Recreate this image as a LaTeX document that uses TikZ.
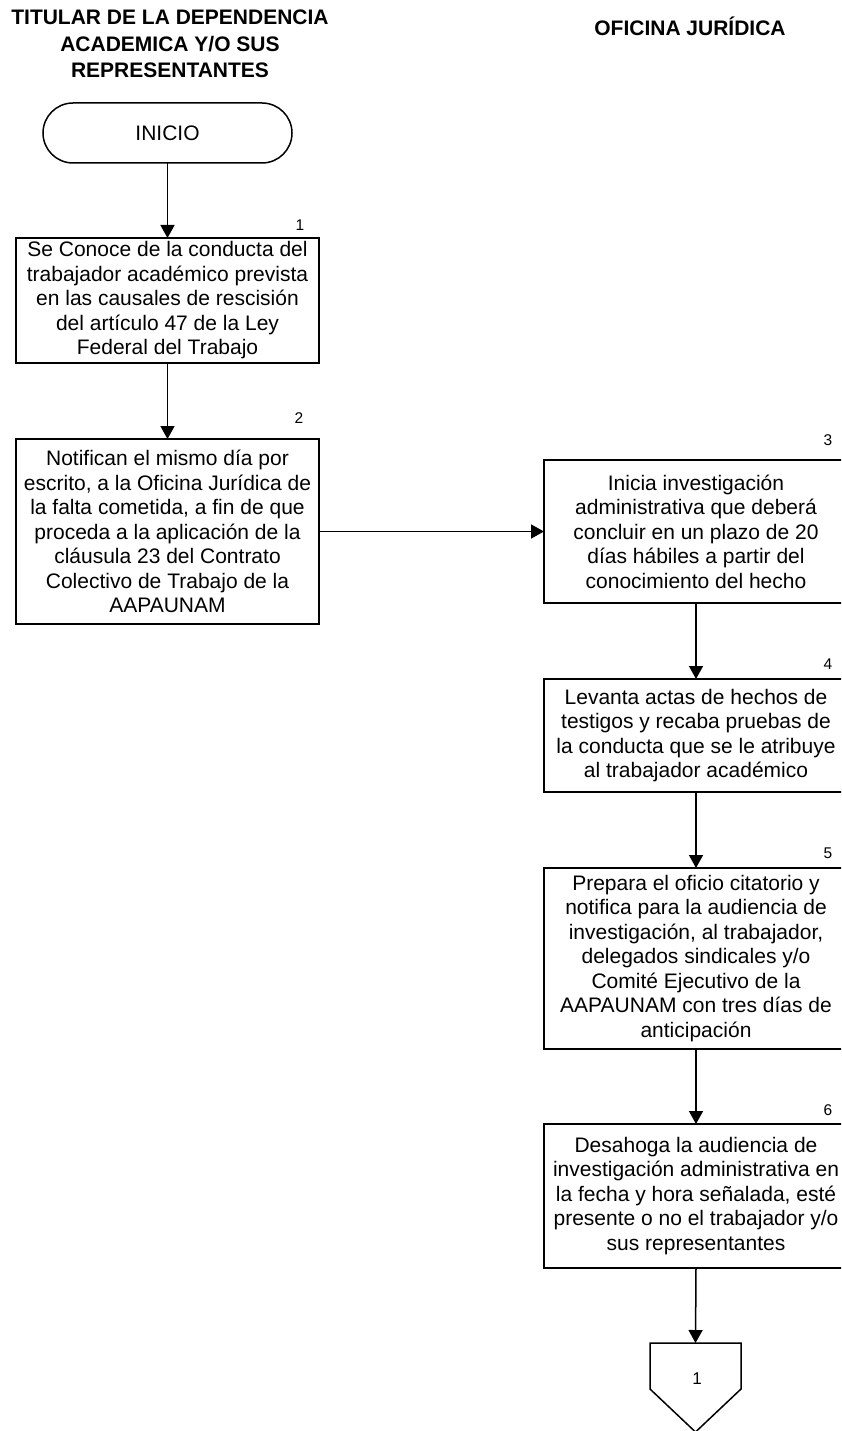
\documentclass[tikz,border=0pt]{standalone}
\usepackage{fontspec}
\setmainfont{Liberation Sans}
\usetikzlibrary{arrows.meta,shapes.misc}
\begin{document}
\begin{tikzpicture}[x=1pt,y=-1pt,
  every node/.style={inner sep=0pt, outer sep=0pt},
  hdr/.style={align=center, font=\fontsize{21}{26.5}\selectfont\bfseries},
  box/.style={draw, line width=1.5pt, minimum width=303pt, align=center,
              font=\fontsize{21}{24.5}\selectfont},
  term/.style={draw, line width=1.5pt, rounded rectangle, minimum width=249pt,
               minimum height=60pt, font=\fontsize{21}{24.5}\selectfont},
  num/.style={font=\fontsize{15.5}{18}\selectfont},
  flow/.style={draw, line width=1.5pt, -{Triangle[length=13pt,width=14pt]}}]
\useasboundingbox (0,0) rectangle (841,1431);
\clip (0,0) rectangle (841,1431);

% lane headings
\node[hdr] (hL) at (170,44) {TITULAR DE LA DEPENDENCIA\\ACADEMICA Y/O SUS\\REPRESENTANTES};
\node[hdr] (hR) at (690,26) {OFICINA JURÍDICA};

% left lane
\node[term] (ini) at (167.5,133) {INICIO};
\node[box, minimum height=125pt] (b1) at (167.5,300.5)
  {Se Conoce de la conducta del\\trabajador académico prevista\\en las causales de rescisión\\del artículo 47 de la Ley\\Federal del Trabajo};
\node[box, minimum height=185pt] (b2) at (167.5,531.5)
  {Notifican el mismo día por\\escrito, a la Oficina Jurídica de\\la falta cometida, a fin de que\\proceda a la aplicación de la\\cláusula 23 del Contrato\\Colectivo de Trabajo de la\\AAPAUNAM};

% right lane
\node[box, minimum width=304pt, minimum height=143pt] (b3) at (696,531.5)
  {Inicia investigación\\administrativa que deberá\\concluir en un plazo de 20\\días hábiles a partir del\\conocimiento del hecho};
\node[box, minimum width=304pt, minimum height=113pt] (b4) at (696,735.5)
  {Levanta actas de hechos de\\testigos y recaba pruebas de\\la conducta que se le atribuye\\al trabajador académico};
\node[box, minimum width=304pt, minimum height=181pt] (b5) at (696,958.5)
  {Prepara el oficio citatorio y\\notifica para la audiencia de\\investigación, al trabajador,\\delegados sindicales y/o\\Comité Ejecutivo de la\\AAPAUNAM con tres días de\\anticipación};
\node[box, minimum width=304pt, minimum height=144pt] (b6) at (696,1196)
  {Desahoga la audiencia de\\investigación administrativa en\\la fecha y hora señalada, esté\\presente o no el trabajador y/o\\sus representantes};

% off-page connector
\node[minimum width=91pt, minimum height=89pt] (off) at (695.5,1387.5) {};
\draw[line width=1.5pt] (off.north west) -- (off.north east) -- ([yshift=-46pt]off.north east)
  -- (off.south) -- ([yshift=-46pt]off.north west) -- cycle;
\node[font=\fontsize{17}{20}\selectfont] (offlbl) at (697,1379) {1};

% step numbers
\node[num] at (300,225) {1};
\node[num] at (299,418) {2};
\node[num] at (828,440) {3};
\node[num] at (828,664) {4};
\node[num] at (828,853) {5};
\node[num] at (828,1110) {6};

% connectors
\draw[flow] (ini) -- (b1);
\draw[flow] (b1) -- (b2);
\draw[flow] (b2.east) -- (b3.west);
\draw[flow] (b3) -- (b4);
\draw[flow] (b4) -- (b5);
\draw[flow] (b5) -- (b6);
\draw[flow] (b6.south) -- (off.north);
\end{tikzpicture}
\end{document}
